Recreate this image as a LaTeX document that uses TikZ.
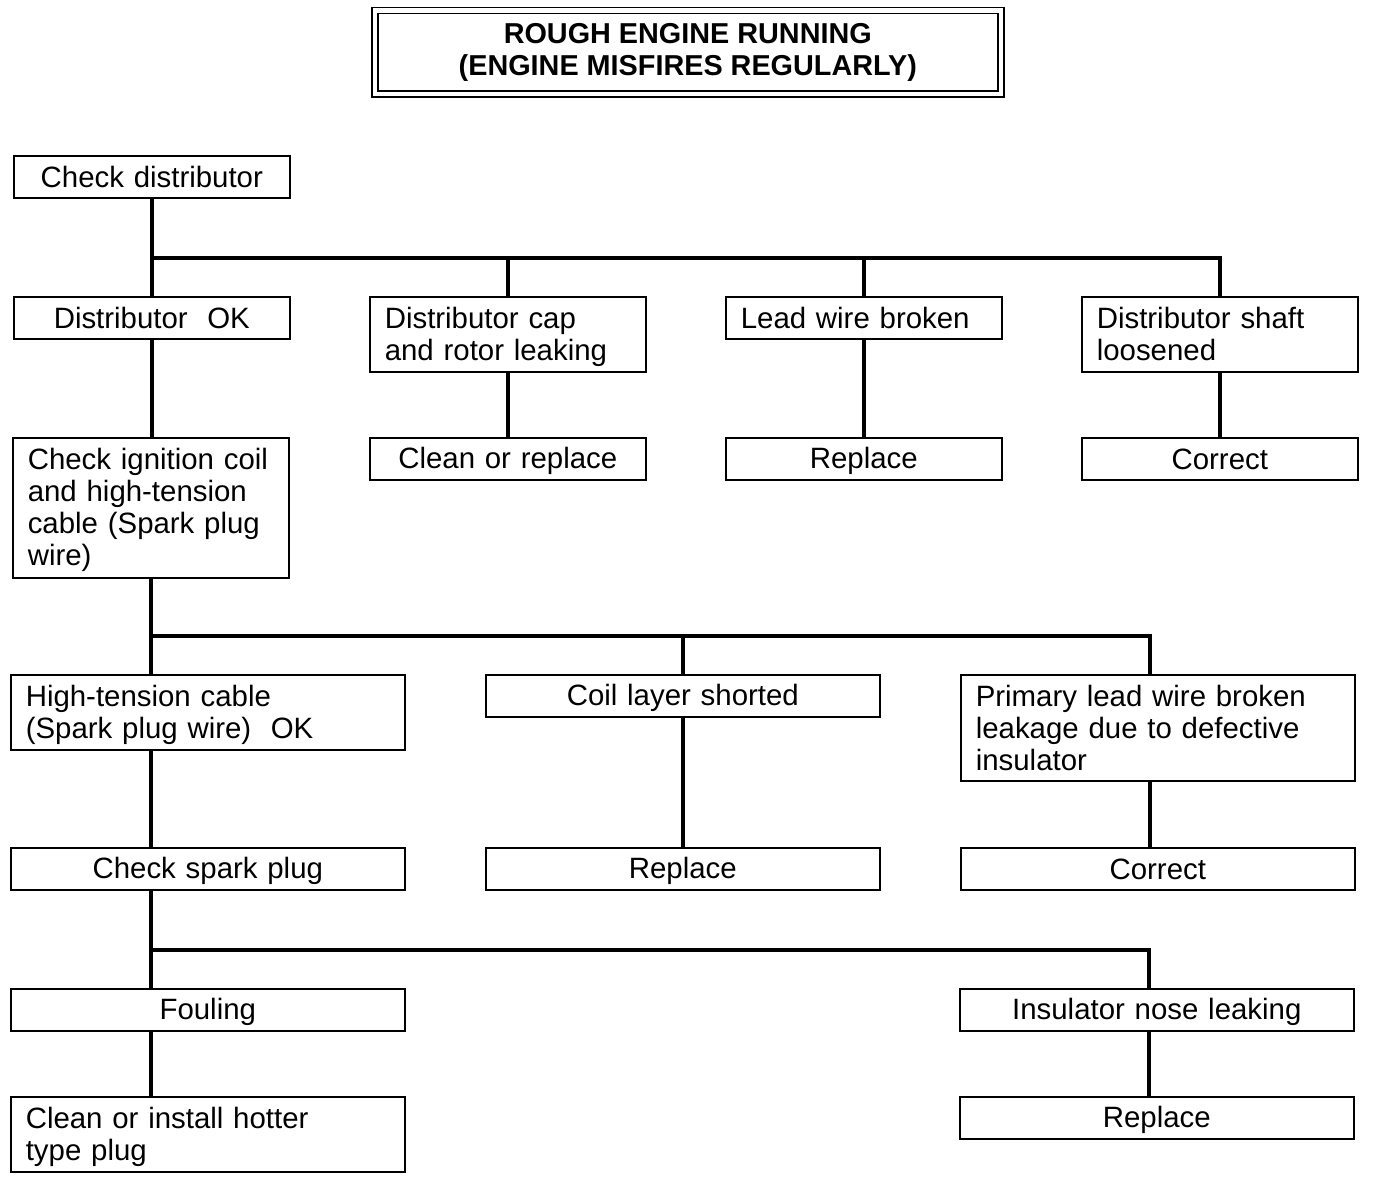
\documentclass[tikz,border=0pt]{standalone}
\usepackage{fontspec}
\setmainfont{Liberation Sans}
\usetikzlibrary{positioning}

\tikzset{
  box/.style={draw, line width=0.8pt, anchor=north west, inner xsep=7.5pt, inner ysep=0pt,
    text width=123pt, minimum height=21pt, align=left, font=\fontsize{14.7}{16}\selectfont,
    execute at begin node=\rule{0pt}{13.2pt}, execute at end node=\rule[-2.8pt]{0pt}{2.8pt}},
  wide/.style={text width=182pt},
  headbox/.style={draw, double, line width=0.8pt, double distance=2.2pt, anchor=north west,
    inner sep=0pt, minimum width=313pt, minimum height=41.75pt, align=center,
    font=\fontsize{14.4}{16}\selectfont\bfseries,
    execute at begin node=\rule{0pt}{13.7pt}, execute at end node=\rule[-2.3pt]{0pt}{2.3pt}},
  conn/.style={line width=2pt},
}

\begin{document}
\begin{tikzpicture}[x=0.5pt, y=-0.5pt]
\useasboundingbox (0,0) rectangle (1376,1178);
% Title
\node[headbox] (title) at (374,9.5) {ROUGH ENGINE RUNNING\\(ENGINE MISFIRES REGULARLY)};
% Distributor checks
\node[box, align=center] (chkdist) at (13,155) {Check distributor};
\node[box, align=center] (distok) at (13,296) {Distributor\ \ OK};
\node[box, minimum height=37.5pt] (capleak) at (369,296) {Distributor cap\\and rotor leaking};
\node[box] (leadwire) at (725,296) {Lead wire broken};
\node[box, minimum height=37.5pt] (shaft) at (1081,296) {Distributor shaft\\loosened};
% Remedies for distributor
\node[box, minimum height=70pt] (chkcoil) at (12,437) {Check ignition coil\\and high-tension\\cable (Spark plug\\wire)};
\node[box, align=center] (cleanrep) at (369,437) {Clean or replace};
\node[box, align=center] (leadrep) at (725,437) {Replace};
\node[box, align=center] (shaftcor) at (1081,437) {Correct};
% Ignition coil checks
\node[box, wide, minimum height=37.5pt] (cableok) at (10,674) {High-tension cable\\(Spark plug wire)\ \ OK};
\node[box, wide, align=center] (coilshort) at (485,674) {Coil layer shorted};
\node[box, wide, minimum height=53pt] (primary) at (960,674) {Primary lead wire broken\\leakage due to defective\\insulator};
\node[box, wide, align=center] (chkplug) at (10,847) {Check spark plug};
\node[box, wide, align=center] (coilrep) at (485,847) {Replace};
\node[box, wide, align=center] (primcor) at (960,847) {Correct};
% Spark plug checks
\node[box, wide, align=center] (fouling) at (10,988) {Fouling};
\node[box, wide, align=center] (nose) at (959,988) {Insulator nose leaking};
\node[box, wide, minimum height=37.5pt] (hotter) at (10,1096) {Clean or install hotter\\type plug};
\node[box, wide, align=center] (noserep) at (959,1096) {Replace};

% Bus lines
\path (chkdist.south) ++(0,59) coordinate (bus1);
\path (chkcoil.south) ++(0,57) coordinate (bus2);
\path (chkplug.south -| chkcoil.south) ++(0,59) coordinate (bus3);
% Connectors, first level
\draw[conn] (chkdist) -- (distok);
\draw[conn] (bus1) -| (capleak);
\draw[conn] (bus1) -| (leadwire);
\draw[conn] (bus1) -| (shaft);
\draw[conn] (capleak) -- (cleanrep);
\draw[conn] (leadwire) -- (leadrep);
\draw[conn] (shaft) -- (shaftcor);
\draw[conn] (distok.south) -- (distok.south |- chkcoil.north);
% Connectors, second level
\draw[conn] (chkcoil.south) -- (chkcoil.south |- cableok.north);
\draw[conn] (bus2) -| (coilshort);
\draw[conn] (bus2) -| ([xshift=-4pt]primary.north);
\draw[conn] (coilshort) -- (coilrep);
\draw[conn] ([xshift=-4pt]primary.south) -- ([xshift=-4pt]primcor.north);
\draw[conn] (cableok.south -| chkcoil.south) -- (chkplug.north -| chkcoil.south);
% Connectors, third level
\draw[conn] (chkplug.south -| chkcoil.south) -- (fouling.north -| chkcoil.south);
\draw[conn] (bus3) -| ([xshift=-4pt]nose.north);
\draw[conn] (fouling.south -| chkcoil.south) -- (hotter.north -| chkcoil.south);
\draw[conn] ([xshift=-4pt]nose.south) -- ([xshift=-4pt]noserep.north);
\end{tikzpicture}
\end{document}
